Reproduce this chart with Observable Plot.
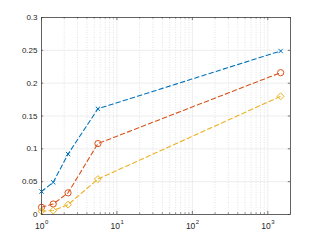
<!DOCTYPE html>
<html><head><meta charset="utf-8">
<script src="https://cdn.jsdelivr.net/npm/d3@7"></script>
<script src="https://cdn.jsdelivr.net/npm/@observablehq/plot@0.6"></script>
<style>body{margin:0;background:#fff}</style>
</head><body><div id="c"></div>
<script>
const xs = [1, 1.43, 2.25, 5.6, 1480];
const blue = [0.035, 0.049, 0.092, 0.161, 0.249];
const orange = [0.011, 0.016, 0.033, 0.108, 0.216];
const yellow = [0.005, 0.006, 0.015, 0.054, 0.180];
const yTicks = [0, 0.05, 0.1, 0.15, 0.2, 0.25, 0.3];
const yTickLabels = ["0", "0.05", "0.1", "0.15", "0.2", "0.25", "0.3"];
const xTicks = [1, 10, 100, 1000];
const xTickBase = ["10", "10", "10", "10"];
const xTickExp = ["0", "1", "2", "3"];
const xMinor = [];
for (const d of [1, 10, 100, 1000]) for (let k = 2; k <= 9; k++) if (d * k <= 2000) xMinor.push(d * k);

const series = [
  {name: "A", ys: blue, color: "#0072BD", symbol: "times", r: 2.1},
  {name: "B", ys: orange, color: "#D95319", symbol: "circle", r: 3.1},
  {name: "C", ys: yellow, color: "#EDB120", symbol: "diamond2", r: 3.1}
];
const rows = series.flatMap(s => s.ys.map((y, i) => ({x: xs[i], y, s: s.name})));
const font = "Liberation Sans, Arial, sans-serif";
const tk = 0.3 * 0.012;

const marks = [
  Plot.ruleX(xMinor, {stroke: "#d0d0d0", strokeWidth: 0.6, strokeDasharray: "1,1.5"}),
  Plot.ruleX(xTicks, {stroke: "#e6e6e6", strokeWidth: 0.7}),
  Plot.ruleY(yTicks, {stroke: "#e6e6e6", strokeWidth: 0.7}),
];
for (const s of series) {
  const d = rows.filter(r => r.s === s.name);
  marks.push(Plot.line(d, {x: "x", y: "y", stroke: s.color, strokeWidth: 1.1, strokeDasharray: "4.5,3"}));
  marks.push(Plot.dot(d, {x: "x", y: "y", stroke: s.color, symbol: s.symbol, r: s.r, strokeWidth: 1, fill: "none"}));
}
// inward ticks
marks.push(Plot.ruleX(xTicks, {y1: 0, y2: tk * 1.3, stroke: "#404040", strokeWidth: 0.7}));
marks.push(Plot.ruleX(xTicks, {y1: 0.3, y2: 0.3 - tk * 1.3, stroke: "#404040", strokeWidth: 0.7}));
marks.push(Plot.ruleX(xMinor, {y1: 0, y2: tk * 0.7, stroke: "#404040", strokeWidth: 0.6}));
marks.push(Plot.ruleX(xMinor, {y1: 0.3, y2: 0.3 - tk * 0.7, stroke: "#404040", strokeWidth: 0.6}));
marks.push(Plot.ruleY(yTicks, {x1: 1, x2: 1.07, stroke: "#404040", strokeWidth: 0.7}));
marks.push(Plot.ruleY(yTicks, {x1: 2000, x2: 2000 / 1.07, stroke: "#404040", strokeWidth: 0.7}));
marks.push(Plot.frame({stroke: "#404040", strokeWidth: 0.8}));
// labels
marks.push(Plot.text(xTicks, {x: d => d, y: 0, text: (d, i) => xTickBase[i], dy: 12, dx: 3, textAnchor: "end", fill: "#262626", fontSize: 8.5, lineAnchor: "middle"}));
marks.push(Plot.text(xTicks, {x: d => d, y: 0, text: (d, i) => xTickExp[i], dy: 8, dx: 3.5, textAnchor: "start", fill: "#262626", fontSize: 6, lineAnchor: "middle"}));
marks.push(Plot.text(yTicks, {x: 1, y: d => d, text: (d, i) => yTickLabels[i], dx: -4, textAnchor: "end", fill: "#262626", fontSize: 8}));

const chart = Plot.plot({
  width: 321, height: 241,
  marginLeft: 41, marginRight: 31, marginTop: 17, marginBottom: 27,
  style: {fontFamily: font, background: "#fff"},
  x: {type: "log", domain: [1, 2000], axis: null},
  y: {domain: [0, 0.3], axis: null},
  marks
});
document.getElementById("c").appendChild(chart);
</script>
</body></html>
